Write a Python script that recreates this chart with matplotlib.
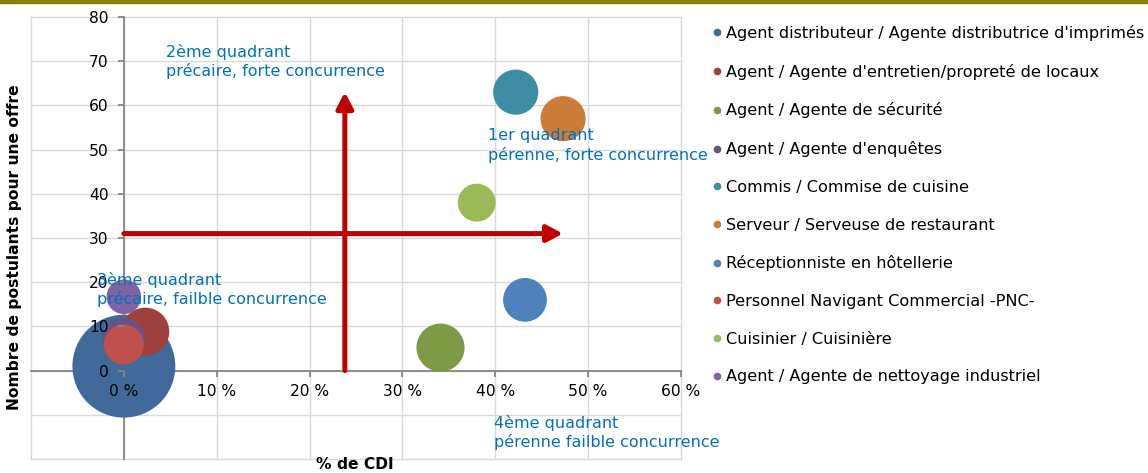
import matplotlib
matplotlib.use('Agg')
import matplotlib.pyplot as plt
from matplotlib.lines import Line2D
import numpy as np


# metiers, % de CDI, nombre de postulants, taille de bulle
metiers = ["Agent distributeur / Agente distributrice d'imprimés",
           "Agent / Agente d'entretien/propreté de locaux",
           "Agent / Agente de sécurité",
           "Agent / Agente d'enquêtes",
           "Commis / Commise de cuisine",
           "Serveur / Serveuse de restaurant",
           "Réceptionniste en hôtellerie",
           "Personnel Navigant Commercial -PNC-",
           "Cuisinier / Cuisinière",
           "Agent / Agente de nettoyage industriel"]
pct_cdi = [0.0, 2.3, 34.1, 0.0, 42.2, 47.3, 43.2, 0.0, 38.0, 0.0]
postulants = [1.0, 8.8, 5.2, 7.2, 63.0, 57.0, 16.0, 5.9, 38.0, 16.7]
taille = [2650, 580, 580, 440, 510, 510, 480, 400, 360, 300]
couleurs = ['#41699A', '#9E413E', '#7E9A47', '#695287', '#3E8DA4',
            '#CC7B38', '#4F81BD', '#C0504D', '#9BBB59', '#8064A2']

x_ticks = [0, 10, 20, 30, 40, 50, 60]
y_ticks = [0, 10, 20, 30, 40, 50, 60, 70, 80]

quadrants = [("2ème quadrant\nprécaire, forte concurrence", 4.5, 74.0),
             ("1er quadrant\npérenne, forte concurrence", 39.2, 54.8),
             ("3ème quadrant\nprécaire, failble concurrence", -2.9, 22.3),
             ("4ème quadrant\npérenne failble concurrence", 39.9, -10.0)]

# fleches (seuils) : x du seuil vertical, y du seuil horizontal
seuil_x = 23.8
seuil_y = 31.0
fin_x = 47.3
fin_y = 63.0

plt.rcParams['font.family'] = 'DejaVu Sans'
fs = 11.2

fig = plt.figure(figsize=(11.48, 4.73), dpi=100)
ax = fig.add_axes([31 / 1148, 1 - 459 / 473, 650 / 1148, 442 / 473])

# bande olive en haut
fig.patches.append(plt.Rectangle((0, 1 - 3 / 473), 1, 3 / 473, transform=fig.transFigure,
                                 color='#877F00', zorder=10))

ax.set_xlim(-10, 60)
ax.set_ylim(-20, 80)

# grille dessinee a la main pour rester sous les bulles
for gx in [-10] + x_ticks:
    ax.axvline(gx, color='#D9D9D9', lw=1, zorder=0.3, clip_on=False)
for gy in [-20, -10] + y_ticks:
    ax.axhline(gy, color='#D9D9D9', lw=1, zorder=0.3, clip_on=False)

ax.scatter(pct_cdi, postulants, s=np.array(taille) * 2.07, c=couleurs,
           linewidths=0, zorder=1)

# fleches rouges
arr = dict(arrowstyle='-|>,head_length=0.95,head_width=0.5', lw=3.6, color='#C00000',
           mutation_scale=10, shrinkA=0, shrinkB=0)
ax.annotate('', xy=(fin_x, seuil_y), xytext=(0, seuil_y), arrowprops=arr, zorder=3)
ax.annotate('', xy=(seuil_x, fin_y), xytext=(seuil_x, 0), arrowprops=arr, zorder=3)

for txt, tx, ty in quadrants:
    ax.text(tx, ty, txt, color='#0070C0', fontsize=11.5, ha='left', va='top', zorder=6,
            linespacing=1.25)

# axes qui se croisent a 0
for side in ['top', 'right']:
    ax.spines[side].set_visible(False)
ax.spines['left'].set_position(('data', 0))
ax.spines['bottom'].set_position(('data', 0))
for side in ['left', 'bottom']:
    ax.spines[side].set_color('#868686')
    ax.spines[side].set_linewidth(1.3)
    ax.spines[side].set_zorder(0.6)

ax.set_xticks(x_ticks)
ax.set_xticklabels([f'{v} %' for v in x_ticks])
ax.set_yticks(y_ticks)
ax.tick_params(axis='both', colors='#868686', labelcolor='black', labelsize=fs,
               length=4, width=1.3, direction='out')
ax.tick_params(axis='x', pad=6)
ax.tick_params(axis='y', pad=7)
ax.xaxis.set_zorder(5)
ax.yaxis.set_zorder(5)
ax.patch.set_visible(False)

fig.text(355 / 1148, 1 - 464 / 473, '% de CDI', fontsize=fs, fontweight='bold',
         ha='center', va='center')
fig.text(15 / 1148, 1 - 247 / 473, 'Nombre de postulants pour une offre', fontsize=fs,
         fontweight='bold', ha='center', va='center', rotation=90)

handles = [Line2D([], [], marker='o', ls='none', markersize=5.5, color=c,
                  markeredgewidth=0) for c in couleurs]
fig.legend(handles, metiers, loc='upper left', bbox_to_anchor=(712 / 1148, 1 - 25 / 473),
           frameon=False, fontsize=11.6, labelspacing=1.41, handlelength=0.6,
           handletextpad=0.28, borderpad=0, borderaxespad=0)

fig.savefig('out.png', dpi=100)
